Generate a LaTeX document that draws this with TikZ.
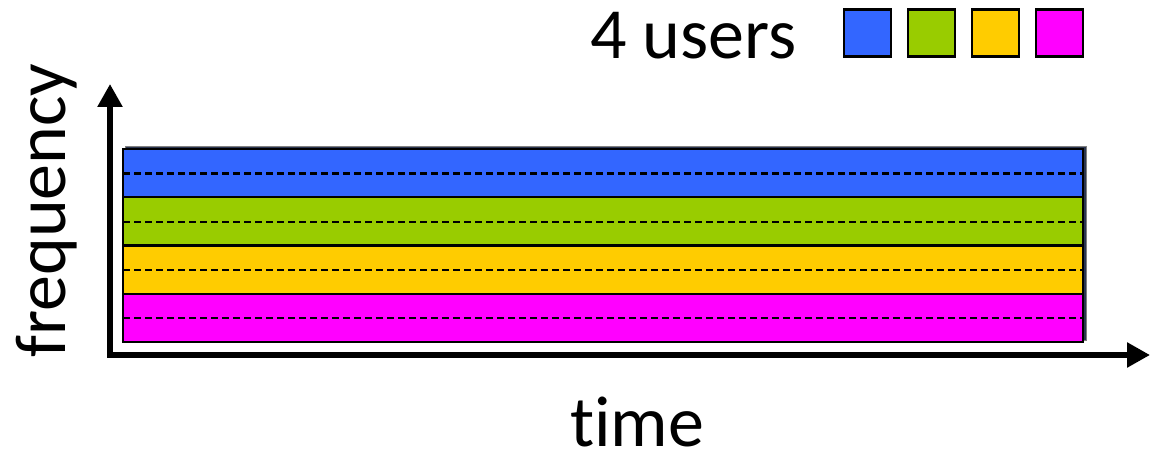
\documentclass[tikz,border=0pt]{standalone}
\usepackage{fontspec}
\setmainfont{Carlito}[Ligatures=NoCommon]
\usetikzlibrary{arrows.meta}
\definecolor{ublue}{HTML}{3366FF}
\definecolor{ugreen}{HTML}{99CC00}
\definecolor{uyellow}{HTML}{FFCC00}
\definecolor{umagenta}{HTML}{FF00FF}
\definecolor{backdark}{HTML}{2A3550}
\tikzset{
  band/.style={draw=black, line width=2.4pt},
  midline/.style={draw=black, line width=2.3pt, dash pattern=on 7pt off 4pt},
  legendbox/.style={draw=black, line width=2.2pt, minimum width=47pt, minimum height=47pt, inner sep=0pt},
  axis/.style={line width=5.5pt, miter limit=10, {Triangle[length=23pt,width=24pt]}-{Triangle[length=23pt,width=24pt]}},
  label/.style={font=\fontsize{72pt}{72pt}\selectfont, inner sep=0pt}
}
\begin{document}
\begin{tikzpicture}[x=1pt,y=-1pt]
\useasboundingbox (0,0) rectangle (1166,454);
% back plate
\fill[backdark, draw=gray, line width=1pt] (125,147) rectangle (1086,340);
% bands
\foreach \c [count=\i from 0] in {ublue,ugreen,uyellow,umagenta}{
  \pgfmathsetmacro{\top}{149+48.25*\i}
  \pgfmathsetmacro{\bot}{149+48.25*(\i+1)}
  \pgfmathsetmacro{\mid}{149+48.25*\i+24.5}
  \fill[\c] (123,\top) rectangle (1083,\bot);
  \draw[midline] (123,\mid) -- (1083,\mid);
}
\foreach \i in {0,1,2,3,4}{
  \pgfmathsetmacro{\yy}{149+48.25*\i}
  \draw[line width=2.4pt] (123,\yy) -- (1083,\yy);
}
\draw[band, fill=none] (123,149) rectangle (1083,342);
% axes
\coordinate (yend) at (110,84);
\coordinate (origin) at (110,355);
\coordinate (xend) at (1150,355);
\draw[axis] (yend) -- (origin) -- (xend);
% labels
\node[label, anchor=base west] (users) at (590,59) {4 users};
\node[label, anchor=base west] (time) at (570,446) {time};
\node[label, anchor=base west, rotate=90] (freq) at (65,358) {frequency};
% legend
\node[legendbox, fill=ublue] (l1) at (867.5,33) {};
\node[legendbox, fill=ugreen] (l2) at (931.5,33) {};
\node[legendbox, fill=uyellow] (l3) at (995.5,33) {};
\node[legendbox, fill=umagenta] (l4) at (1059.5,33) {};
\end{tikzpicture}
\end{document}
